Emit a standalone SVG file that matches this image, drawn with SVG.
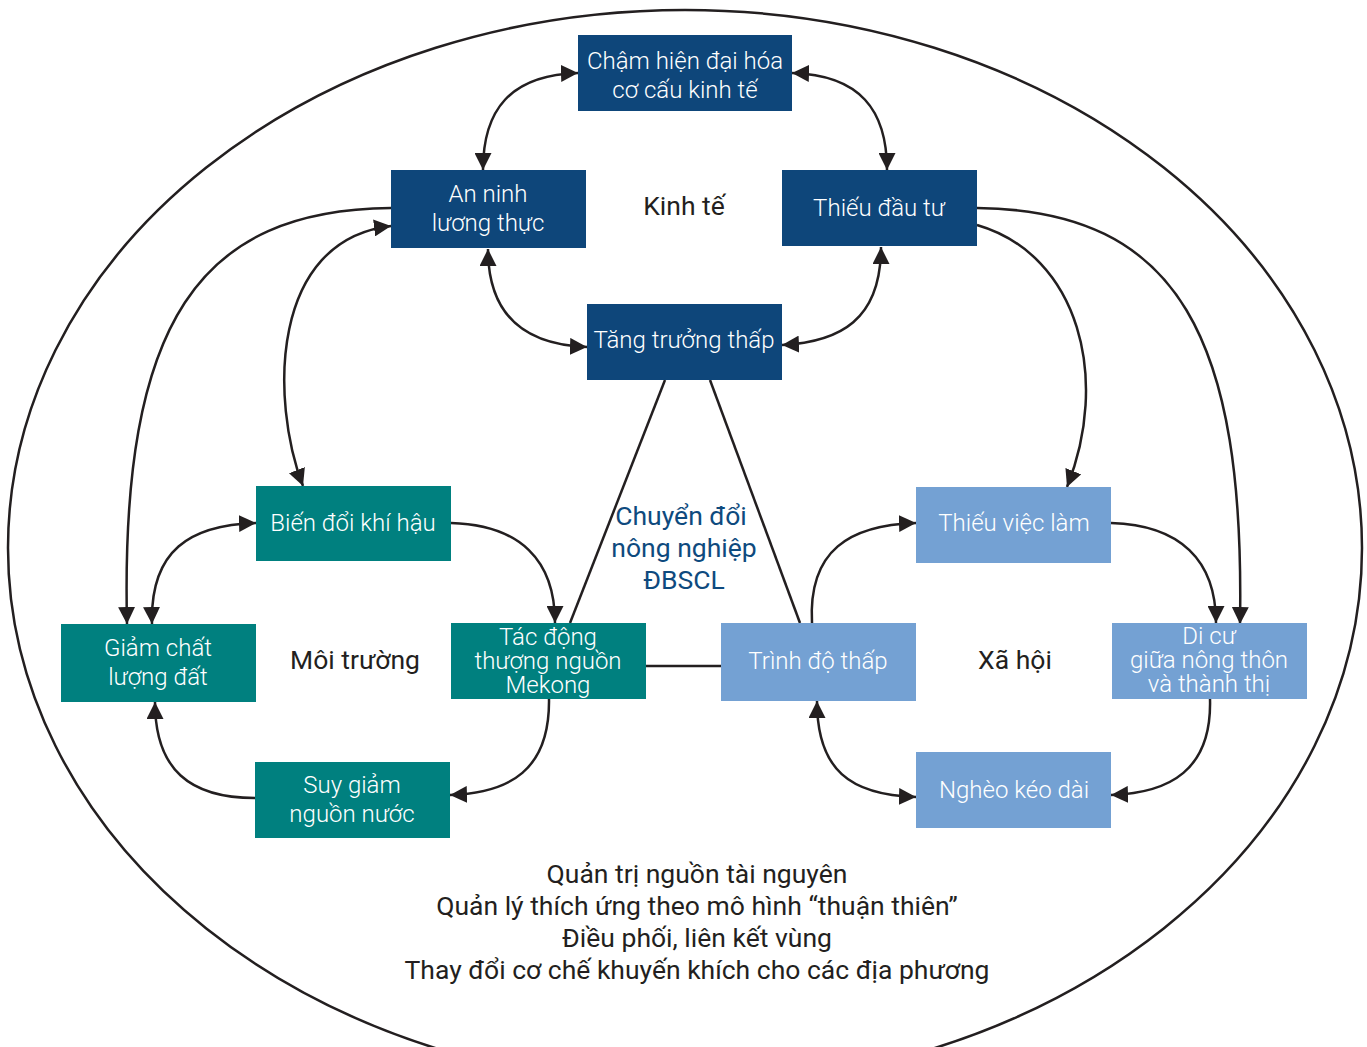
<svg xmlns="http://www.w3.org/2000/svg" width="1367" height="1047" viewBox="0 0 1367 1047">
<defs>
<marker id="ah" viewBox="0 0 10 10" refX="10" refY="5" markerWidth="17" markerHeight="17" markerUnits="userSpaceOnUse" orient="auto-start-reverse"><path d="M0,0 L10,5 L0,10 z" fill="#231f20"/></marker>
<style>
.c{fill:none;stroke:#231f20;stroke-width:2.5}
.a{marker-end:url(#ah)}
.b{marker-start:url(#ah);marker-end:url(#ah)}
.dk{fill:#0e467a}
.tl{fill:#00807f}
.lb{fill:#74a1d3}
.bt{font-family:Roboto,"Liberation Sans",sans-serif;font-weight:300;font-size:24px;fill:#fff;text-anchor:middle}
.lbl{font-family:Roboto,"Liberation Sans",sans-serif;font-size:26.5px;fill:#231f20;text-anchor:middle}
.ctr{font-family:Roboto,"Liberation Sans",sans-serif;font-size:26.5px;fill:#0e4a7e;text-anchor:middle}
</style>
</defs>
<rect width="1367" height="1047" fill="#fff"/>
<ellipse cx="685" cy="548" rx="677" ry="538" fill="none" stroke="#231f20" stroke-width="2.5"/>
<g id="connectors">
<path class="c b" d="M578,73 C510,75 483,110 483,170"/>
<path class="c b" d="M792,73 C860,75 887,110 887,170"/>
<path class="c b" d="M488,249 C488,320 530,345 587,347"/>
<path class="c b" d="M881,247 C881,320 840,342 782,345"/>
<path class="c a" d="M391,208 C200,210 120,320 127,624"/>
<path class="c b" d="M303,486 C270,400 270,240 391,226"/>
<path class="c a" d="M977,208 C1180,210 1245,340 1240,624"/>
<path class="c a" d="M977,225 C1080,255 1110,380 1067,487"/>
<path class="c b" d="M152,624 C150,550 190,525 256,523"/>
<path class="c a" d="M451,523 C520,525 555,560 555,623"/>
<path class="c a" d="M549,699 C550,770 510,793 450,795"/>
<path class="c a" d="M255,798 C190,798 155,770 155,702"/>
<path class="c" d="M646,666 L721,666"/>
<path class="c" d="M665,380 L570,623"/>
<path class="c" d="M710,380 L800,623"/>
<path class="c a" d="M812,623 C808,550 850,525 916,523"/>
<path class="c a" d="M1111,523 C1180,525 1216,560 1216,623"/>
<path class="c a" d="M1210,699 C1212,770 1170,793 1111,795"/>
<path class="c b" d="M817,701 C817,770 850,795 916,797"/>
</g>
<g id="cham"><rect class="dk" x="578" y="35" width="214" height="76"/><text class="bt" x="685" y="69">Chậm hiện đại hóa</text><text class="bt" x="685" y="98">cơ cấu kinh tế</text></g>
<g id="anninh"><rect class="dk" x="391" y="170" width="195" height="78"/><text class="bt" x="488" y="202">An ninh</text><text class="bt" x="488" y="231">lương thực</text></g>
<g id="thieudautu"><rect class="dk" x="782" y="170" width="195" height="76"/><text class="bt" x="879" y="216">Thiếu đầu tư</text></g>
<g id="tangtruong"><rect class="dk" x="587" y="304" width="195" height="76"/><text class="bt" x="684" y="348">Tăng trưởng thấp</text></g>
<g id="bien"><rect class="tl" x="256" y="486" width="195" height="75"/><text class="bt" x="353" y="531">Biến đổi khí hậu</text></g>
<g id="giam"><rect class="tl" x="61" y="624" width="195" height="78"/><text class="bt" x="158" y="656">Giảm chất</text><text class="bt" x="158" y="685">lượng đất</text></g>
<g id="tacdong"><rect class="tl" x="451" y="623" width="195" height="76"/><text class="bt" x="548" y="645">Tác động</text><text class="bt" x="548" y="669">thượng nguồn</text><text class="bt" x="548" y="693">Mekong</text></g>
<g id="suygiam"><rect class="tl" x="255" y="762" width="195" height="76"/><text class="bt" x="352" y="793">Suy giảm</text><text class="bt" x="352" y="822">nguồn nước</text></g>
<g id="thieuvieclam"><rect class="lb" x="916" y="487" width="195" height="76"/><text class="bt" x="1014" y="531">Thiếu việc làm</text></g>
<g id="trinhdo"><rect class="lb" x="721" y="623" width="195" height="78"/><text class="bt" x="818" y="669">Trình độ thấp</text></g>
<g id="dicu"><rect class="lb" x="1112" y="623" width="195" height="76"/><text class="bt" x="1209" y="644">Di cư</text><text class="bt" x="1209" y="668">giữa nông thôn</text><text class="bt" x="1209" y="692">và thành thị</text></g>
<g id="ngheo"><rect class="lb" x="916" y="752" width="195" height="76"/><text class="bt" x="1014" y="798">Nghèo kéo dài</text></g>
<g id="labels">
<text class="lbl" x="684" y="215">Kinh tế</text>
<text class="lbl" x="355" y="669">Môi trường</text>
<text class="lbl" x="1015" y="669">Xã hội</text>
<text class="ctr" x="681" y="525">Chuyển đổi</text>
<text class="ctr" x="684" y="557">nông nghiệp</text>
<text class="ctr" x="684" y="589">ĐBSCL</text>
<text class="lbl" x="697" y="883">Quản trị nguồn tài nguyên</text>
<text class="lbl" x="697" y="915">Quản lý thích ứng theo mô hình “thuận thiên”</text>
<text class="lbl" x="697" y="947">Điều phối, liên kết vùng</text>
<text class="lbl" x="697" y="979">Thay đổi cơ chế khuyến khích cho các địa phương</text>
</g>
</svg>
